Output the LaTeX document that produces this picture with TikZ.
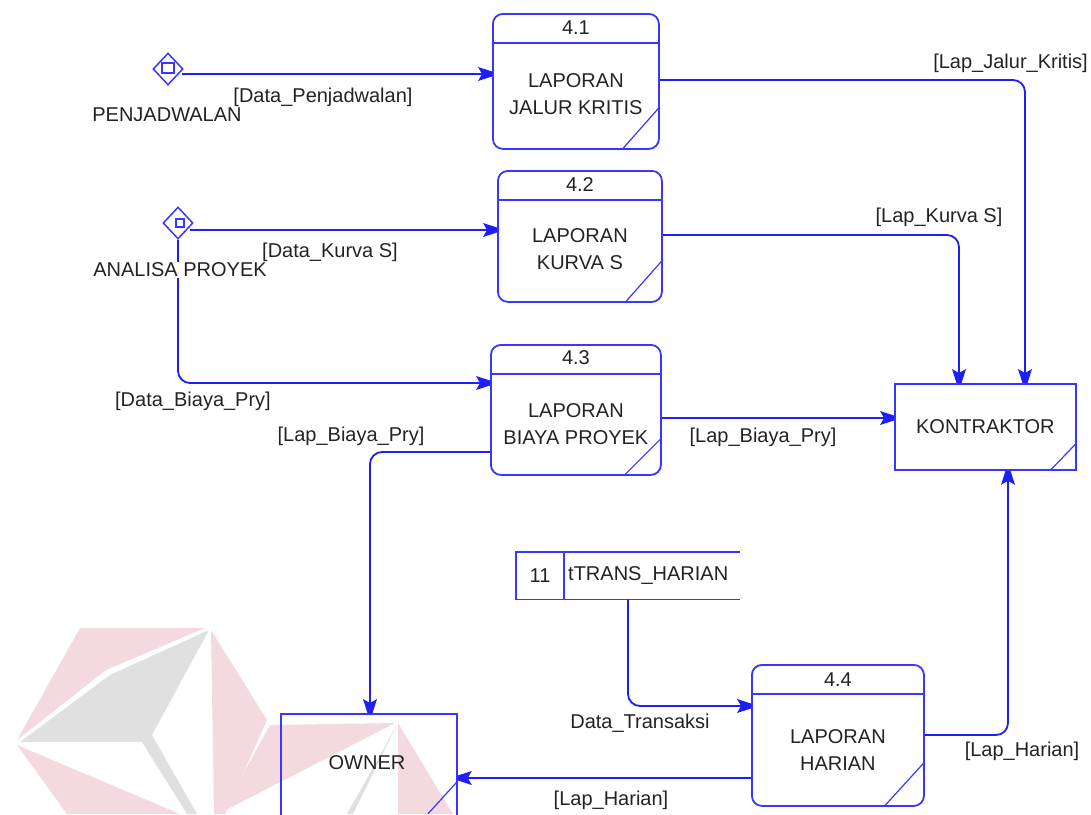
\documentclass[tikz,border=0pt]{standalone}
\usepackage{fontspec}
\setmainfont{Liberation Sans}
\usetikzlibrary{shapes.geometric,calc}
\definecolor{dblue}{RGB}{30,30,245}
\definecolor{bblue}{RGB}{55,55,255}
\definecolor{txtc}{RGB}{35,35,35}
\definecolor{wmpink}{RGB}{244,218,222}
\definecolor{wmgray}{RGB}{224,224,224}
\tikzset{arrhd/.pic={\fill[dblue] (0,-2.5) -- (-14,-7) -- (-10,0) -- (-14,7) -- (0,2.5) -- cycle;}}
\begin{document}
\begin{tikzpicture}[x=1pt,y=-1pt,
  every node/.style={font=\fontsize{20}{27}\selectfont, text=txtc, inner sep=0pt},
  procbox/.style={draw=bblue, line width=1.8pt, rounded corners=10pt, anchor=north west},
  entbox/.style={draw=bblue, line width=1.8pt, anchor=north west},
  boxline/.style={draw=bblue, line width=1.8pt},
  diag/.style={draw=bblue, line width=1.2pt},
  flow/.style={draw=dblue, line width=1.8pt, rounded corners=12pt},
  flowlbl/.style={fill=white, inner sep=1pt},
  srcd/.style={diamond, draw=bblue, line width=1.5pt, minimum width=30pt, minimum height=32pt, inner sep=0pt}
]
\useasboundingbox (0,0) rectangle (1091,814);
\clip (0,0) rectangle (1091,814);
% watermark
\fill[wmpink] (80,628) -- (205,628) -- (106,670) -- (17,740) -- cycle;
\fill[wmgray] (20,742) -- (110,675) -- (209,630) -- (152,735) -- (197,814) -- (187,814) -- (142,742) -- cycle;
\fill[wmpink] (211,630) -- (267,720) -- (227,810) -- (225,814) -- (214,814) -- cycle;
\fill[wmpink] (17,745) -- (180,814) -- (67,814) -- cycle;
\fill[wmpink] (270,725) -- (395,723) -- (222,812) -- cycle;
\fill[wmgray] (397,725) -- (347,814) -- (353,814) -- cycle;
\fill[wmpink] (398,723) -- (453,814) -- (398,814) -- cycle;

% processes
\node[procbox, minimum width=166pt, minimum height=135pt] (p41) at (492,13) {};
\node[procbox, minimum width=164pt, minimum height=131pt] (p42) at (497,170) {};
\node[procbox, minimum width=170pt, minimum height=130pt] (p43) at (490,344) {};
\node[procbox, minimum width=172pt, minimum height=141pt] (p44) at (751,664) {};
\foreach \p/\ox/\oy in {p41/38/43, p42/38/43, p43/38/38, p44/41/45}{
  \draw[boxline] ($(\p.north west)+(0,30)$) -- ($(\p.north east)+(0,30)$);
  \draw[diag] ($(\p.south east)+(-\ox,0)$) -- ($(\p.south east)+(0,-\oy)$);
}
\node (n41) at ($(p41.north)+(0,15)$) {4.1};
\node[align=center] (t41) at ($(p41.north)+(0,81)$) {LAPORAN\\JALUR KRITIS};
\node (n42) at ($(p42.north)+(0,15)$) {4.2};
\node[align=center] (t42) at ($(p42.north)+(0,79)$) {LAPORAN\\KURVA S};
\node (n43) at ($(p43.north)+(0,14)$) {4.3};
\node[align=center] (t43) at ($(p43.north)+(0,80)$) {LAPORAN\\BIAYA PROYEK};
\node (n44) at ($(p44.north)+(0,16)$) {4.4};
\node[align=center] (t44) at ($(p44.north)+(0,86)$) {LAPORAN\\HARIAN};

% entities
\node[entbox, minimum width=181pt, minimum height=86pt] (kon) at (894,383) {};
\node (tkon) at (kon.center) {KONTRAKTOR};
\draw[diag] ($(kon.south east)+(-27,0)$) -- ($(kon.south east)+(0,-28)$);
\node[entbox, minimum width=176pt, minimum height=110pt] (own) at (280,713) {};
\node (town) at (367,763) {OWNER};
\draw[diag] ($(own.north east)+(-30,101)$) -- ($(own.north east)+(0,68)$);

% data store
\node[anchor=north west, minimum width=224pt, minimum height=47pt] (st) at (516,552) {};
\draw[boxline] (st.north east) -- (st.north west) -- (st.south west) -- (st.south east);
\draw[boxline] ($(st.north west)+(48,0)$) -- ($(st.south west)+(48,0)$);
\node (stn) at ($(st.west)+(24,0)$) {11};
\node[anchor=west] (stt) at ($(st.west)+(52,0)$) {tTRANS\_HARIAN};

% sources
\node[srcd] (d1) at (168,69) {};
\node[draw=bblue, line width=1.3pt, minimum width=12pt, minimum height=10pt] (d1i) at (168,68) {};
\node[srcd] (d2) at (178,223) {};
\node[draw=bblue, line width=1.3pt, minimum width=8pt, minimum height=8pt] (d2i) at (180,223) {};

% end points of flows
\coordinate (c1) at ($(d1.east)+(-2,5)$);
\coordinate (e1) at (c1 -| p41.west);
\coordinate (c2) at ($(d2.east)+(-4,7)$);
\coordinate (e2) at (c2 -| p42.west);
\coordinate (e3) at ($(p43.north west)+(0,39)$);
\coordinate (e4) at ($(kon.north west)+(131,0)$);
\coordinate (e5) at ($(kon.north west)+(65,0)$);
\coordinate (c6) at ($(p43.north east)+(0,74)$);
\coordinate (e6) at (c6 -| kon.west);
\coordinate (e7) at ($(own.north west)+(90,0)$);
\coordinate (e8) at ($(p44.north west)+(0,42)$);
\coordinate (e9) at ($(kon.south west)+(114,0)$);
\coordinate (c10) at ($(p44.north west)+(0,114)$);
\coordinate (e10) at (c10 -| own.east);

% flows
\draw[flow] (c1) -- (e1);
\node (l1) at (323,97) {[Data\_Penjadwalan]};
\node (ld1) at (167,115) {PENJADWALAN};

\draw[flow] (c2) -- (e2);
\node (l2) at (330,252) {[Data\_Kurva S]};

\draw[flow] (d2.south) |- (e3);
\node[flowlbl] (ld2) at (180,270) {ANALISA PROYEK};
\node (l3) at (193,401) {[Data\_Biaya\_Pry]};

\draw[flow] ($(p41.north east)+(0,67)$) -| (e4);
\node[anchor=east] (l4) at (1088,63) {[Lap\_Jalur\_Kritis]};

\draw[flow] ($(p42.north east)+(0,65)$) -| (e5);
\node (l5) at (939,217) {[Lap\_Kurva S]};

\draw[flow] (c6) -- (e6);
\node (l6) at (763,437) {[Lap\_Biaya\_Pry]};

\draw[flow] ($(p43.north west)+(0,108)$) -| (e7);
\node (l7) at (351,436) {[Lap\_Biaya\_Pry]};

\draw[flow] ($(st.south west)+(112,0)$) |- (e8);
\node (l8) at (640,723) {Data\_Transaksi};

\draw[flow] ($(p44.north east)+(0,71)$) -| (e9);
\node (l9) at (1022,751) {[Lap\_Harian]};

\draw[flow] (c10) -- (e10);
\node (l10) at (611,800) {[Lap\_Harian]};

% arrowheads
\pic at (e1) {arrhd};
\pic at (e2) {arrhd};
\pic at (e3) {arrhd};
\pic at (e6) {arrhd};
\pic at (e8) {arrhd};
\pic[rotate=-90] at (e4) {arrhd};
\pic[rotate=-90] at (e5) {arrhd};
\pic[rotate=-90] at (e7) {arrhd};
\pic[rotate=90] at (e9) {arrhd};
\pic[rotate=180] at (e10) {arrhd};
\end{tikzpicture}
\end{document}
